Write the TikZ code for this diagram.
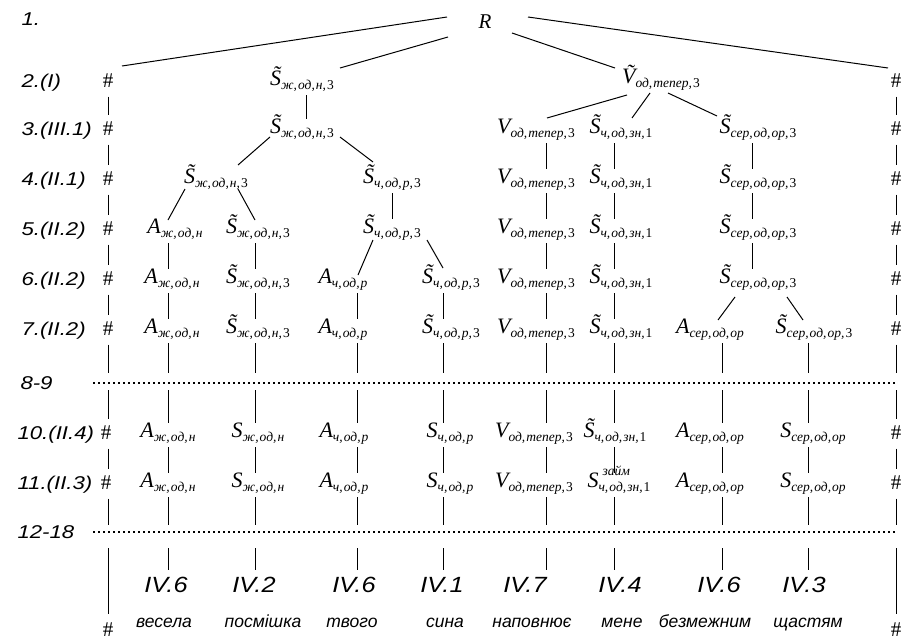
\documentclass[tikz,border=0pt]{standalone}
\usepackage{fontspec}
\setmainfont{Liberation Serif}
\newfontfamily\lblf[FakeStretch=1.2]{Liberation Sans}
\newfontfamily\ivf[FakeStretch=1.15]{Liberation Sans}
\newfontfamily\wrdf{Liberation Sans}
\usetikzlibrary{calc}
\newcommand\cm{,\kern1.1pt}
\newcommand\msym[2]{{\fontsize{22}{22}\selectfont\itshape #1}\raisebox{-4.5pt}{\fontsize{13.5}{13.5}\selectfont\itshape #2}}
\newcommand\msupsub[3]{{\fontsize{22}{22}\selectfont\itshape #1}\rlap{\raisebox{12pt}{\kern4pt\fontsize{13.5}{13.5}\selectfont\itshape #2}}\raisebox{-4.5pt}{\fontsize{13.5}{13.5}\selectfont\itshape #3}}
\newcommand\tS{\~{S}}
\newcommand\tV{\~{V}}
\begin{document}
\begin{tikzpicture}[x=1pt,y=-1pt, line width=1pt,
  math/.style={inner sep=0pt, outer sep=1pt, anchor=base, text height=13pt, text depth=9pt},
  hash/.style={inner sep=0pt, anchor=base, font=\fontsize{21}{21}\selectfont, text height=20pt, text depth=9pt},
  hashb/.style={hash, text height=22pt},
  rowlbl/.style={inner sep=0pt, anchor=base west, font=\fontsize{18.5}{18.5}\lblf\itshape},
  ivlbl/.style={inner sep=0pt, anchor=base, font=\fontsize{22}{22}\ivf\itshape, text height=22pt},
  word/.style={inner sep=0pt, anchor=base, font=\fontsize{17.5}{17.5}\wrdf\itshape},
  dotline/.style={line width=2pt, dash pattern=on 2pt off 3pt}
]
\useasboundingbox (0,0) rectangle (902,640);
% columns
\coordinate (cHL) at (108,0);
\coordinate (cHR) at (896,0);
\coordinate (cA) at (168,0);
\coordinate (cS) at (255,0);
\coordinate (cAc) at (357,0);
\coordinate (cSc) at (443,0);
\coordinate (cV) at (546,0);
\coordinate (cZ) at (614,0);
\coordinate (cAs) at (722,0);
\coordinate (cSs) at (808,0);
\coordinate (cX) at (752,0);
\coordinate (c2) at (306,0);
\coordinate (c4) at (392,0);
% dotted separators
\coordinate (d1) at (0,383);
\coordinate (d2) at (0,532);
\coordinate (d1w) at (93,383);
\coordinate (d1e) at (897,383);
\coordinate (d2w) at (93,532);
\coordinate (d2e) at (897,532);
\draw[dotline] (d1w) -- (d1e);
\draw[dotline] (d2w) -- (d2e);
% row labels
\node[rowlbl] (l1) at (21,25) {1.};
\node[rowlbl] (l2) at (21,87) {2.(I)};
\node[rowlbl] (l3) at (21,135) {3.(III.1)};
\node[rowlbl] (l4) at (21,185) {4.(II.1)};
\node[rowlbl] (l5) at (21,235) {5.(II.2)};
\node[rowlbl] (l6) at (21,285) {6.(II.2)};
\node[rowlbl] (l7) at (21,335) {7.(II.2)};
\node[rowlbl] (l89) at (20,389) {8-9};
\node[rowlbl] (l10) at (17,439) {10.(II.4)};
\node[rowlbl] (l11) at (17,489) {11.(II.3)};
\node[rowlbl] (l1218) at (17,538) {12-18};
% root
\node[inner sep=0pt, anchor=base, font=\fontsize{21}{21}\selectfont\itshape] (R) at (485,28) {R};
% hashes
\foreach \n/\y in {2/87,3/135,4/185,5/235,6/285,7/335}{
  \node[hash] (hL\n) at (108,\y) {\#};
  \node[hash] (hR\n) at (896,\y) {\#};
}
\node[hash] (hL10) at (106,439) {\#};
\node[hash] (hR10) at (896,439) {\#};
\node[hash] (hL11) at (106,489) {\#};
\node[hash] (hR11) at (896,489) {\#};
\node[hashb] (hLb) at (108,636) {\#};
\node[hashb] (hRb) at (896,636) {\#};
% row 2
\node[math] (s2) at (302,85) {\msym{\tS}{ж\cm од\cm н\cm\upshape 3}};
\node[math] (v2) at (661,83) {\msym{\tV}{од\cm тепер\cm\upshape 3}};
% row 3
\node[math] (s3) at (302,133) {\msym{\tS}{ж\cm од\cm н\cm\upshape 3}};
% V, S~ч,зн, S~сер columns rows 3-7
\foreach \n/\y in {3/133,4/183,5/233,6/283,7/333}{
  \node[math] (v\n) at (536,\y) {\msym{V}{од\cm тепер\cm\upshape 3}};
  \node[math] (z\n) at (621,\y) {\msym{\tS}{ч\cm од\cm зн\cm\upshape 1}};
}
\foreach \n/\y in {3/133,4/183,5/233,6/283}{
  \node[math] (x\n) at (758,\y) {\msym{\tS}{сер\cm од\cm ор\cm\upshape 3}};
}
% row 4
\node[math] (s4a) at (216,183) {\msym{\tS}{ж\cm од\cm н\cm\upshape 3}};
\node[math] (s4b) at (392,183) {\msym{\tS}{ч\cm од\cm р\cm\upshape 3}};
% row 5
\node[math] (a5) at (175,233) {\msym{A}{ж\cm од\cm н}};
\node[math] (s5) at (258,233) {\msym{\tS}{ж\cm од\cm н\cm\upshape 3}};
\node[math] (s5b) at (392,233) {\msym{\tS}{ч\cm од\cm р\cm\upshape 3}};
% rows 6-7
\foreach \n/\y in {6/283,7/333}{
  \node[math] (a\n) at (172,\y) {\msym{A}{ж\cm од\cm н}};
  \node[math] (s\n) at (258,\y) {\msym{\tS}{ж\cm од\cm н\cm\upshape 3}};
  \node[math] (a\n b) at (343,\y) {\msym{A}{ч\cm од\cm р}};
  \node[math] (s\n b) at (451,\y) {\msym{\tS}{ч\cm од\cm р\cm\upshape 3}};
}
\node[math] (a7c) at (710,333) {\msym{A}{сер\cm од\cm ор}};
\node[math] (s7c) at (814,333) {\msym{\tS}{сер\cm од\cm ор\cm\upshape 3}};
% rows 10-11
\foreach \n/\y in {10/437,11/487}{
  \node[math] (a\n) at (168,\y) {\msym{A}{ж\cm од\cm н}};
  \node[math] (s\n) at (258,\y) {\msym{S}{ж\cm од\cm н}};
  \node[math] (a\n b) at (344,\y) {\msym{A}{ч\cm од\cm р}};
  \node[math] (s\n b) at (450,\y) {\msym{S}{ч\cm од\cm р}};
  \node[math] (v\n) at (534,\y) {\msym{V}{од\cm тепер\cm\upshape 3}};
  \node[math] (a\n c) at (710,\y) {\msym{A}{сер\cm од\cm ор}};
  \node[math] (s\n c) at (813,\y) {\msym{S}{сер\cm од\cm ор}};
}
\node[math] (z10) at (615,437) {\msym{\tS}{ч\cm од\cm зн\cm\upshape 1}};
\node[math] (z11) at (619,487) {\msupsub{S}{займ}{ч\cm од\cm зн\cm\upshape 1}};
% IV labels
\node[ivlbl] (iv1) at (166,592) {IV.6};
\node[ivlbl] (iv2) at (254,592) {IV.2};
\node[ivlbl] (iv3) at (354,592) {IV.6};
\node[ivlbl] (iv4) at (442,592) {IV.1};
\node[ivlbl] (iv5) at (525,592) {IV.7};
\node[ivlbl] (iv6) at (620,592) {IV.4};
\node[ivlbl] (iv7) at (719,592) {IV.6};
\node[ivlbl] (iv8) at (804,592) {IV.3};
% words
\node[word] (w1) at (164,627) {весела};
\node[word] (w2) at (263,627) {посмішка};
\node[word] (w3) at (352,627) {твого};
\node[word] (w4) at (445,627) {сина};
\node[word] (w5) at (532,627) {наповнює};
\node[word] (w6) at (622,627) {мене};
\node[word] (w7) at (705,627) {безмежним};
\node[word] (w8) at (808,627) {щастям};
% root connectors
\draw ($(R.base)+(-38,-11)$) -- ($(hL2.base)+(14,-21)$);
\draw ($(R.base)+(-37,9)$) -- ($(s2.base)+(38,-17)$);
\draw ($(R.base)+(27,5)$) -- ($(v2.base)+(-46,-15)$);
\draw ($(R.base)+(43,-11)$) -- ($(hR2.base)+(-8,-19)$);
% diagonal connectors
\draw ($(s3.base)+(-32,4)$) -- ($(s4a.base)+(22,-18)$);
\draw ($(s3.base)+(38,4)$) -- ($(s4b.base)+(-19,-21)$);
\draw ($(s4a.base)+(-31,6)$) -- ($(a5.base)+(-7,-13)$);
\draw ($(s4a.base)+(22,6)$) -- ($(s5.base)+(-3,-13)$);
\draw ($(s5b.base)+(-19,7)$) -- ($(a6b.base)+(15,-8)$);
\draw ($(s5b.base)+(35,7)$) -- ($(s6b.base)+(-8,-15)$);
\draw ($(v2.base)+(-34,12)$) -- ($(v3.base)+(11,-15)$);
\draw ($(v2.base)+(-11,10)$) -- ($(z3.base)+(11,-15)$);
\draw ($(v2.base)+(7,10)$) -- ($(x3.base)+(-41,-17)$);
\draw ($(x6.base)+(-23,14)$) -- ($(a7c.base)+(8,-13)$);
\draw ($(x6.base)+(29,14)$) -- ($(s7c.base)+(-11,-13)$);
% vertical connectors
\foreach \a/\b/\c in {s2/s3/c2, s4b/s5b/c4,
  v3/v4/cV, v4/v5/cV, v5/v6/cV, v6/v7/cV,
  z3/z4/cZ, z4/z5/cZ, z5/z6/cZ, z6/z7/cZ,
  x3/x4/cX, x4/x5/cX, x5/x6/cX,
  a5/a6/cA, a6/a7/cA, s5/s6/cS, s6/s7/cS,
  a6b/a7b/cAc, s6b/s7b/cSc,
  a10/a11/cA, s10/s11/cS, a10b/a11b/cAc, s10b/s11b/cSc,
  v10/v11/cV, z10/z11/cZ, a10c/a11c/cAs, s10c/s11c/cSs,
  hL2/hL3/cHL, hL3/hL4/cHL, hL4/hL5/cHL, hL5/hL6/cHL, hL6/hL7/cHL, hL10/hL11/cHL,
  hR2/hR3/cHR, hR3/hR4/cHR, hR4/hR5/cHR, hR5/hR6/cHR, hR6/hR7/cHR, hR10/hR11/cHR}
  {\draw (\a.south -| \c) -- (\b.north -| \c);}
% through first dotted line
\foreach \a/\b/\c in {a7/a10/cA, s7/s10/cS, a7b/a10b/cAc, s7b/s10b/cSc,
  v7/v10/cV, z7/z10/cZ, a7c/a10c/cAs, s7c/s10c/cSs, hL7/hL10/cHL, hR7/hR10/cHR}
  {\draw (\a.south -| \c) -- ($(d1 -| \c)+(0,-10)$);
   \draw ($(d1 -| \c)+(0,7)$) -- (\b.north -| \c);}
% through second dotted line
\foreach \a/\b/\c in {a11/iv1/cA, s11/iv2/cS, a11b/iv3/cAc, s11b/iv4/cSc,
  v11/iv5/cV, z11/iv6/cZ, a11c/iv7/cAs, s11c/iv8/cSs, hL11/hLb/cHL, hR11/hRb/cHR}
  {\draw (\a.south -| \c) -- ($(d2 -| \c)+(0,-7)$);
   \draw ($(d2 -| \c)+(0,16)$) -- (\b.north -| \c);}
\end{tikzpicture}
\end{document}
